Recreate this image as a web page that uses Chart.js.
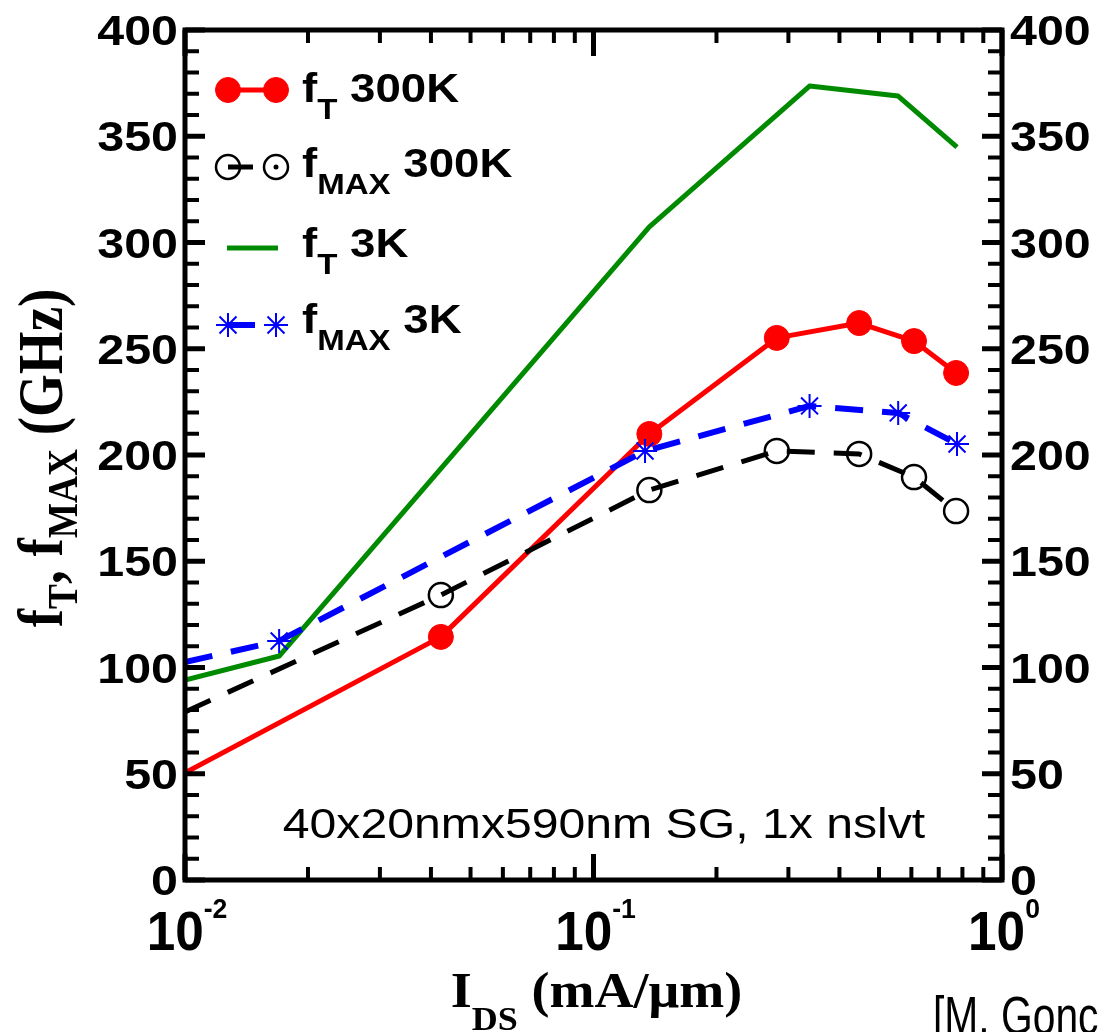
<!DOCTYPE html>
<html><head><meta charset="utf-8">
<script src="https://cdn.jsdelivr.net/npm/chart.js@4/dist/chart.umd.min.js"></script>
<style>html,body{margin:0;padding:0;background:#fff;overflow:hidden}#wrap{width:1107px;height:1032px;position:relative}canvas{display:block}</style>
</head><body><div id="wrap"><canvas id="c" width="1107" height="1032"></canvas></div>
<script>
// ---- data (I_DS in mA/um, frequencies in GHz) ----
const ftRT_x   = [0.01, 0.0423, 0.137, 0.281, 0.447, 0.609, 0.772];
const ftRT_y   = [50.4, 114.4, 209.9, 255.1, 262.1, 253.6, 238.6];
const fmaxRT_x = [0.01, 0.0423, 0.137, 0.281, 0.447, 0.609, 0.772];
const fmaxRT_y = [79.1, 134.1, 183.5, 201.9, 200.5, 189.6, 173.6];
const ft3K_x   = [0.01, 0.0170, 0.137, 0.338, 0.557, 0.776];
const ft3K_y   = [94.1, 105.4, 307.3, 373.6, 368.9, 344.9];
const fmax3K_x = [0.01, 0.0170, 0.1337, 0.338, 0.557, 0.776];
const fmax3K_y = [102.6, 112.5, 201.9, 223.1, 219.8, 205.2];

const legendBase = ['f', 'f', 'f', 'f'];
const legendSub  = ['T', 'MAX', 'T', 'MAX'];
const legendRest = ['300K', '300K', '3K', '3K'];

const yTickValues = [0, 50, 100, 150, 200, 250, 300, 350, 400];
const yTickLabels = ['0', '50', '100', '150', '200', '250', '300', '350', '400'];
const xTickValues = [0.01, 0.1, 1];
const xTickBase   = ['10', '10', '10'];
const xTickExp    = ['-2', '-1', '0'];

const xTitle = ['I', 'DS', ' (mA/\u03bcm)'];
const yTitle = ['f', 'T', ', f', 'MAX', ' (GHz)'];
const noteText = '40x20nmx590nm SG, 1x nslvt';
const refText = '[M. Gonc';

// ---- helpers ----
const mk = (xs, ys) => xs.map((x, i) => ({x: x, y: ys[i]}));
const firstHidden = (xs, r) => xs.map((x, i) => i === 0 ? 0 : r);
const SANS = '"Liberation Sans", Arial, sans-serif';
const SERIF = '"Liberation Serif", "Times New Roman", serif';

function drawRuns(ctx, runs, x, y, align, sx, sy, rot) {
  ctx.save();
  ctx.translate(x, y);
  if (rot) ctx.rotate(rot);
  ctx.scale(sx, sy);
  let total = 0;
  runs.forEach(r => { ctx.font = r.font; r.w = ctx.measureText(r.t).width; total += r.w; });
  let cx = align === 'center' ? -total / 2 : (align === 'right' ? -total : 0);
  ctx.textAlign = 'left'; ctx.textBaseline = 'alphabetic'; ctx.fillStyle = '#000';
  runs.forEach(r => { ctx.font = r.font; ctx.fillText(r.t, cx, r.dy || 0); cx += r.w; });
  ctx.restore();
}
function seg(ctx, x1, y1, x2, y2) { ctx.beginPath(); ctx.moveTo(x1, y1); ctx.lineTo(x2, y2); ctx.stroke(); }

function marker(ctx, style, r, x, y, fill, stroke, bw) {
  ctx.save();
  ctx.setLineDash([]);
  ctx.fillStyle = fill; ctx.strokeStyle = stroke; ctx.lineWidth = bw;
  if (Chart.helpers && Chart.helpers.drawPoint) {
    Chart.helpers.drawPoint(ctx, {pointStyle: style, radius: r, borderWidth: bw, rotation: 0}, x, y);
  } else if (style === 'circle') {
    ctx.beginPath(); ctx.arc(x, y, r, 0, Math.PI * 2); ctx.fill(); ctx.stroke();
  } else {
    for (let k = 0; k < 4; k++) { const a = k * Math.PI / 4; seg(ctx, x - r * Math.cos(a), y - r * Math.sin(a), x + r * Math.cos(a), y + r * Math.sin(a)); }
  }
  ctx.restore();
}

const decor = {
  id: 'decor',
  afterDraw(chart) {
    const ctx = chart.ctx, a = chart.chartArea, xs = chart.scales.x, ys = chart.scales.y;
    ctx.save();
    ctx.strokeStyle = '#000'; ctx.lineCap = 'butt'; ctx.setLineDash([]);
    // y ticks (both sides, inward)
    for (let v = ys.min; v <= ys.max; v += 10) {
      const py = ys.getPixelForValue(v);
      const major = v % 50 === 0;
      const L = major ? 20 : 14;
      ctx.lineWidth = major ? 5 : 4;
      seg(ctx, a.left, py, a.left + L, py);
      seg(ctx, a.right, py, a.right - L, py);
    }
    // x ticks (top and bottom, inward)
    for (let d = -2; d < 0; d++) {
      for (let m = 1; m <= 10; m++) {
        const v = m * Math.pow(10, d);
        const px = xs.getPixelForValue(v);
        const major = (m === 1 || m === 10);
        const L = major ? 26 : 13;
        ctx.lineWidth = major ? 5 : 4;
        seg(ctx, px, a.bottom, px, a.bottom - L);
        seg(ctx, px, a.top, px, a.top + L);
      }
    }
    // frame
    ctx.lineWidth = 5;
    ctx.strokeRect(a.left, a.top, a.right - a.left, a.bottom - a.top);
    ctx.restore();

    // y tick labels
    yTickValues.forEach((v, i) => {
      const py = ys.getPixelForValue(v) + 15;
      drawRuns(ctx, [{t: yTickLabels[i], font: 'bold 39px ' + SANS}], a.left - 7, py, 'right', 1.24, 1.1);
      drawRuns(ctx, [{t: yTickLabels[i], font: 'bold 39px ' + SANS}], a.right + 8, py, 'left', 1.24, 1.1);
    });
    // x tick labels
    xTickValues.forEach((v, i) => {
      const px = xs.getPixelForValue(v);
      drawRuns(ctx, [
        {t: xTickBase[i], font: 'bold 54px ' + SANS},
        {t: xTickExp[i], font: 'bold 28px ' + SANS, dy: -31}
      ], px + 2, a.bottom + 70, 'center', 0.95, 1.02);
    });
    // axis titles
    drawRuns(ctx, [
      {t: xTitle[0], font: 'bold 51px ' + SERIF},
      {t: xTitle[1], font: 'bold 34px ' + SERIF, dy: 23},
      {t: xTitle[2], font: 'bold 51px ' + SERIF}
    ], (a.left + a.right) / 2 + 3, 1007, 'center', 1.06, 1);
    drawRuns(ctx, [
      {t: yTitle[0], font: 'bold 50px ' + SERIF},
      {t: yTitle[1], font: 'bold 34px ' + SERIF, dy: 12},
      {t: yTitle[2], font: 'bold 50px ' + SERIF},
      {t: yTitle[3], font: 'bold 34px ' + SERIF, dy: 12},
      {t: yTitle[4], font: 'bold 50px ' + SERIF}
    ], 62, 458, 'center', 1.1, 1.25, -Math.PI / 2);

    // annotation + reference
    drawRuns(ctx, [{t: noteText, font: '43px ' + SANS}], 604, 838, 'center', 1.12, 1);
    drawRuns(ctx, [{t: refText, font: '40px ' + SANS}], 933, 1034, 'left', 1.02, 1.35);

    // legend
    const rows = [102, 177, 257, 333];
    const x1 = 228, x2 = 276;
    ctx.save();
    // row 1: red
    let cy = rows[0] - 12;
    ctx.strokeStyle = '#ff0000'; ctx.lineWidth = 5; ctx.setLineDash([]);
    seg(ctx, x1, cy, x2, cy);
    marker(ctx, 'circle', 12.5, x1, cy, '#ff0000', '#ff0000', 1);
    marker(ctx, 'circle', 12.5, x2, cy, '#ff0000', '#ff0000', 1);
    // row 2: black open circles, dashed
    cy = rows[1] - 10;
    ctx.strokeStyle = '#000'; ctx.lineWidth = 5; ctx.setLineDash([]);
    seg(ctx, x1, cy, x1 + 25, cy);
    marker(ctx, 'circle', 12, x1, cy, 'rgba(0,0,0,0)', '#000', 2.5);
    marker(ctx, 'circle', 12, x2, cy, 'rgba(0,0,0,0)', '#000', 2.5);
    ctx.fillStyle = '#000'; ctx.beginPath(); ctx.arc(x2, cy, 2.5, 0, Math.PI * 2); ctx.fill();
    // row 3: green line
    cy = rows[2] - 9;
    ctx.strokeStyle = '#008a00'; ctx.lineWidth = 5;
    seg(ctx, 227, cy, 278, cy);
    // row 4: blue asterisks, dashed
    cy = rows[3] - 8;
    ctx.strokeStyle = '#0000ff'; ctx.lineWidth = 6;
    seg(ctx, x1, cy, x1 + 27, cy);
    marker(ctx, 'star', 12, x1, cy, '#0000ff', '#0000ff', 2);
    marker(ctx, 'star', 12, x2, cy, '#0000ff', '#0000ff', 2);
    ctx.restore();

    rows.forEach((by, i) => {
      drawRuns(ctx, [
        {t: legendBase[i], font: 'bold 40px ' + SANS},
        {t: legendSub[i], font: 'bold 29px ' + SANS, dy: 17},
        {t: ' ' + legendRest[i], font: 'bold 40px ' + SANS}
      ], 302, by, 'left', 1.14, 1);
    });
  }
};

new Chart(document.getElementById('c').getContext('2d'), {
  type: 'scatter',
  data: {
    datasets: [
      {label: 'fMAX 3K', data: mk(fmax3K_x, fmax3K_y), showLine: true, order: 0,
       borderColor: '#0000ff', backgroundColor: '#0000ff', borderWidth: 6, borderDash: [28, 19],
       pointStyle: 'star', pointRadius: firstHidden(fmax3K_x, 12), pointBorderWidth: 2,
       pointBorderColor: '#0000ff', pointBackgroundColor: '#0000ff'},
      {label: 'fMAX 300K', data: mk(fmaxRT_x, fmaxRT_y), showLine: true, order: 1,
       borderColor: '#000000', backgroundColor: 'rgba(0,0,0,0)', borderWidth: 5, borderDash: [28, 19],
       pointStyle: 'circle', pointRadius: firstHidden(fmaxRT_x, 12), pointBorderWidth: 2.5,
       pointBorderColor: '#000000', pointBackgroundColor: 'rgba(0,0,0,0)'},
      {label: 'fT 300K', data: mk(ftRT_x, ftRT_y), showLine: true, order: 2,
       borderColor: '#ff0000', backgroundColor: '#ff0000', borderWidth: 5,
       pointStyle: 'circle', pointRadius: firstHidden(ftRT_x, 12.5), pointBorderWidth: 1,
       pointBorderColor: '#ff0000', pointBackgroundColor: '#ff0000'},
      {label: 'fT 3K', data: mk(ft3K_x, ft3K_y), showLine: true, order: 3,
       borderColor: '#008a00', backgroundColor: '#008a00', borderWidth: 5,
       pointRadius: 0}
    ]
  },
  options: {
    responsive: false, animation: false, devicePixelRatio: 1, events: [],
    layout: {padding: {left: 185, right: 105, top: 30, bottom: 152}},
    scales: {
      x: {type: 'logarithmic', min: 0.01, max: 1, display: false},
      y: {type: 'linear', min: 0, max: 400, display: false}
    },
    elements: {line: {tension: 0, borderCapStyle: 'butt', borderJoinStyle: 'round'}},
    plugins: {legend: {display: false}, tooltip: {enabled: false}}
  },
  plugins: [decor]
});
</script></body></html>
